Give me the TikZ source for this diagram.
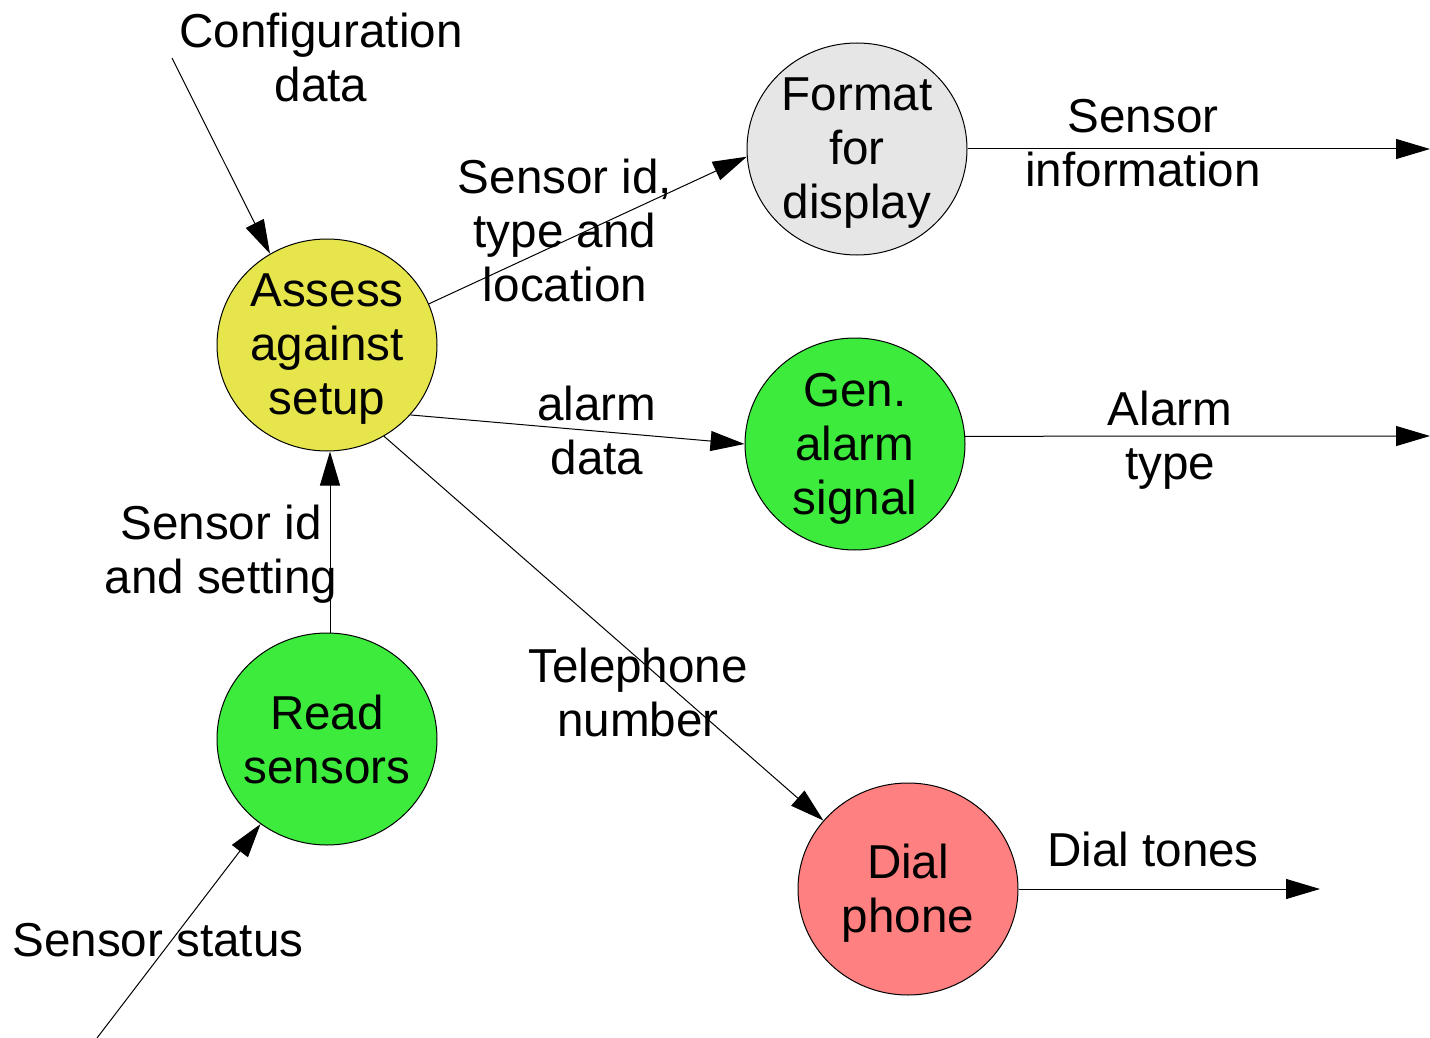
\documentclass[tikz,border=0pt]{standalone}
\usepackage{fontspec}
\setmainfont{Liberation Sans}
\usetikzlibrary{shapes.geometric,arrows.meta}
\definecolor{assessfill}{RGB}{230,230,76}
\definecolor{procgreen}{RGB}{61,235,61}
\definecolor{dialfill}{RGB}{255,128,128}
\definecolor{formatfill}{RGB}{230,230,230}
\tikzset{
  process/.style={ellipse, draw=black, line width=0.5pt, minimum width=110pt,
    minimum height=106pt, inner sep=-15pt, align=center,
    font=\fontsize{23.8}{27}\selectfont},
  proctext/.style={inner sep=0pt, align=center,
    font=\fontsize{23.8}{27}\selectfont},
  flowlabel/.style={align=center, inner sep=0pt,
    font=\fontsize{23.8}{27}\selectfont},
  % texts whose last line has a descender sit a little lower
  descfix/.style={yshift=-2.2pt},
  flow/.style={line width=0.5pt, -{Triangle[length=17pt,width=10pt]}}
}
\begin{document}
\begin{tikzpicture}[x=0.5pt, y=-0.5pt]
\useasboundingbox (0,0) rectangle (1430,1038);

% processes (outline shapes, then their captions)
\node[process, fill=assessfill] (assess) at (327,345) {};
\node[process, fill=formatfill] (format) at (857,149) {};
\node[process, fill=procgreen] (gen) at (855,444) {};
\node[process, fill=procgreen] (read) at (327,739) {};
\node[process, fill=dialfill] (dial) at (908,889) {};
\node[proctext, descfix] (tassess) at (assess.center) {Assess\\against\\setup};
\node[proctext, descfix] (tformat) at (format.center) {Format\\for\\display};
\node[proctext, descfix] (tgen) at (gen.center) {Gen.\\alarm\\signal};
\node[proctext] (tread) at (read.center) {Read\\sensors};
\node[proctext, descfix] (tdial) at (dial.center) {Dial\\phone};

% free ends of the external flows
\coordinate (cfgsrc) at (172,58);
\coordinate (statsrc) at (97,1038);
\coordinate (infoout) at (1430,149);
\coordinate (alarmout) at (1430,436);
\coordinate (toneout) at (1320,889);

% flows
\draw[flow] (cfgsrc) -- (assess.122);
\draw[flow] (assess.22) -- (format.184.6);
\draw[flow] (format.east) -- (infoout);
\draw[flow] (assess.-40.4) -- (gen.west);
\draw[flow] (gen.4) -- (alarmout);
\draw[flow] (assess.-58.4) -- (dial.141.9);
\draw[flow] ([xshift=1.5pt]read.north) -- ([xshift=1.5pt]assess.south);
\draw[flow] (statsrc) -- (read.232);
\draw[flow] (dial.east) -- (toneout);

% flow labels
\node[flowlabel] (lcfg) at (321,57) {Configuration\\data};
\node[flowlabel] (lsid) at (565,230) {Sensor id,\\type and\\location};
\node[flowlabel] (linfo) at (1143,143) {Sensor\\information};
\node[flowlabel] (lalarm) at (597,430) {alarm\\data};
\node[flowlabel, descfix] (ltype) at (1170,436) {Alarm\\type};
\node[flowlabel, descfix] (lset) at (221,550) {Sensor id\\and setting};
\node[flowlabel] (ltel) at (638,692) {Telephone\\number};
\node[flowlabel] (lstat) at (158,940) {Sensor status};
\node[flowlabel] (ltone) at (1153,849) {Dial tones};
\end{tikzpicture}
\end{document}
